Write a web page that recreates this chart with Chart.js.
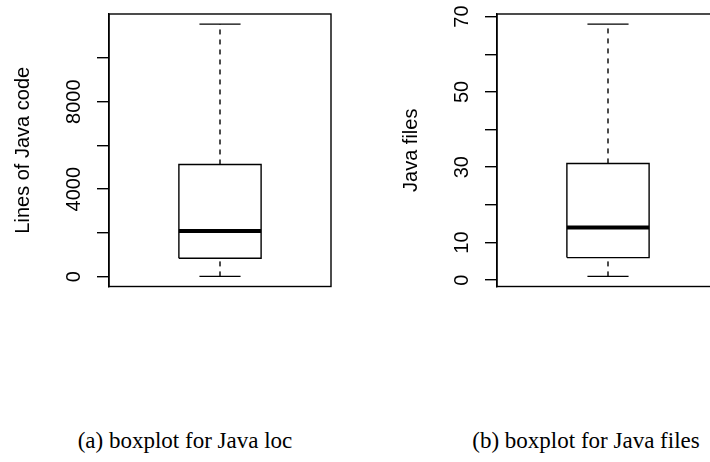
<!DOCTYPE html>
<html>
<head>
<meta charset="utf-8">
<script src="https://cdn.jsdelivr.net/npm/chart.js@4/dist/chart.umd.min.js"></script>
<style>
  html, body { margin: 0; padding: 0; background: #fff; overflow: hidden; width: 710px; height: 462px; }
  .panel { position: absolute; top: 0; width: 355px; height: 300px; }
  .caption { position: absolute; font-family: "Liberation Serif", "DejaVu Serif", serif; font-size: 23px; color: #000; white-space: nowrap; transform: translateX(-50%); top: 428px; }
</style>
</head>
<body>
<div class="panel" style="left:0px"><canvas id="locChart" width="355" height="300"></canvas></div>
<div class="panel" style="left:388px"><canvas id="filesChart" width="355" height="300"></canvas></div>
<div class="caption" style="left:185px">(a) boxplot for Java loc</div>
<div class="caption" style="left:586px">(b) boxplot for Java files</div>
<script>
// Five-number summaries: lower whisker, Q1, median, Q3, upper whisker
const locStats = [10, 840, 2090, 5130, 11550];
const fileStats = [1, 6, 14, 31, 68];

// Axis ticks and the labels printed beside them
const locTicks = [0, 2000, 4000, 6000, 8000, 10000];
const locTickLabels = ['0', '', '4000', '', '8000', ''];
const fileTicks = [0, 10, 20, 30, 40, 50, 60, 70];
const fileTickLabels = ['0', '10', '', '30', '', '50', '', '70'];

const locTitle = 'Lines of Java code';
const filesTitle = 'Java files';

// Frame around the plotting region
const framePlugin = {
  id: 'frame',
  afterDraw(chart) {
    const { ctx, chartArea: a } = chart;
    ctx.save();
    ctx.strokeStyle = '#000';
    ctx.lineWidth = 1.4;
    ctx.strokeRect(a.left, a.top, a.right - a.left, a.bottom - a.top);
    ctx.restore();
  }
};

function boxDatasets(stats) {
  const [lo, q1, med, q3, hi] = stats;
  const c = 1, half = 0.2, cap = 0.1;
  const base = { showLine: true, pointRadius: 0, borderColor: '#000', fill: false, tension: 0 };
  return [
    { ...base, borderWidth: 1.4, data: [{x: c - half, y: q1}, {x: c + half, y: q1}, {x: c + half, y: q3}, {x: c - half, y: q3}, {x: c - half, y: q1}] },
    { ...base, borderWidth: 4, borderCapStyle: 'butt', data: [{x: c - half, y: med}, {x: c + half, y: med}] },
    { ...base, borderWidth: 1.4, borderDash: [5, 5], data: [{x: c, y: q3}, {x: c, y: hi}] },
    { ...base, borderWidth: 1.4, borderDash: [5, 5], data: [{x: c, y: lo}, {x: c, y: q1}] },
    { ...base, borderWidth: 1.4, data: [{x: c - cap, y: hi}, {x: c + cap, y: hi}] },
    { ...base, borderWidth: 1.4, data: [{x: c - cap, y: lo}, {x: c + cap, y: lo}] }
  ];
}

function makeBoxplot(id, stats, ticks, labels, title, tickPad) {
  const lo = stats[0], hi = stats[4];
  const ext = (hi - lo) * 0.04;
  new Chart(document.getElementById(id), {
    type: 'scatter',
    data: { datasets: boxDatasets(stats) },
    plugins: [framePlugin],
    options: {
      responsive: false,
      animation: false,
      devicePixelRatio: 1,
      layout: { padding: { top: 14, bottom: 13.5, left: 0, right: 24 } },
      plugins: { legend: { display: false }, tooltip: { enabled: false } },
      scales: {
        x: { type: 'linear', display: false, min: 0.46, max: 1.54 },
        y: {
          type: 'linear',
          min: lo - ext,
          max: hi + ext,
          afterBuildTicks(scale) { scale.ticks = ticks.map(v => ({ value: v })); },
          afterFit(scale) {
            scale.width = 109;
            scale.paddingTop = 0;
            scale.paddingBottom = 0;
          },
          ticks: {
            callback: (v, i) => labels[i],
            minRotation: 90,
            maxRotation: 90,
            crossAlign: 'center',
            padding: tickPad,
            color: '#000',
            font: { family: 'Liberation Sans, Arial, sans-serif', size: 20 }
          },
          grid: { drawOnChartArea: false, drawTicks: true, tickLength: 12, color: '#000', lineWidth: 1.4 },
          border: { display: true, color: '#000', width: 1.4 },
          title: {
            display: true,
            text: title,
            color: '#000',
            padding: { top: 11.5, bottom: 0 },
            font: { family: 'Liberation Sans, Arial, sans-serif', size: 20 }
          }
        }
      }
    }
  });
}

makeBoxplot('locChart', locStats, locTicks, locTickLabels, locTitle, 0);
makeBoxplot('filesChart', fileStats, fileTicks, fileTickLabels, filesTitle, 11);
</script>
</body>
</html>
